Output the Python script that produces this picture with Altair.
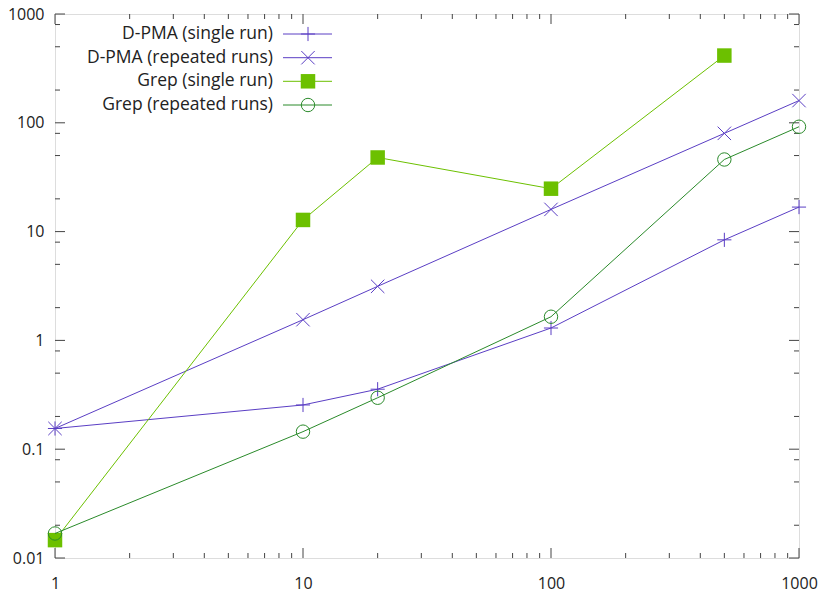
import altair as alt
import pandas as pd

# ---- data ----
SERIES = ["D-PMA (single run)", "D-PMA (repeated runs)", "Grep (single run)", "Grep (repeated runs)"]
X_VALUES = [1, 10, 20, 100, 500, 1000]
DPMA_SINGLE = [0.155, 0.255, 0.356, 1.30, 8.4, 16.8]
DPMA_REPEATED = [0.155, 1.55, 3.14, 16.0, 80.0, 160.0]
GREP_SINGLE = [0.0146, 12.8, 48.0, 24.8, 415.0]
GREP_REPEATED = [0.0168, 0.145, 0.297, 1.65, 46.0, 92.0]

X_MAJOR = [1, 10, 100, 1000]
X_MINOR = [2, 3, 4, 5, 6, 7, 8, 9, 20, 30, 40, 50, 60, 70, 80, 90, 200, 300, 400, 500, 600, 700, 800, 900]
Y_MAJOR = [0.01, 0.1, 1, 10, 100, 1000]
Y_MINOR = [0.02, 0.05, 0.08, 0.2, 0.5, 0.8, 2, 5, 8, 20, 50, 80, 200, 500, 800]

COLORS = ["#5a3ec4", "#5a3ec4", "#6cc000", "#2a8a2a"]
W, H = 744, 544
FONT = "Open Sans"

values = [DPMA_SINGLE, DPMA_REPEATED, GREP_SINGLE, GREP_REPEATED]
rows = []
for name, ys in zip(SERIES, values):
    for x, y in zip(X_VALUES, ys):
        rows.append({"series": name, "x": x, "y": y})
df = pd.DataFrame(rows)

xs = alt.Scale(type="log", domain=[1, 1000], nice=False)
ys_ = alt.Scale(type="log", domain=[0.01, 1000], nice=False)

PLUS = "M-1,0L1,0M0,-1L0,1"
CROSS = "M-1,-1L1,1M-1,1L1,-1"
SHAPES = [PLUS, CROSS, "square", "circle"]
SIZES = [200, 180, 210, 180]
FILLED = [False, False, True, False]

layers = []

# axes (labels only)
base_axes = alt.Chart(pd.DataFrame({"x": [1], "y": [1]})).mark_point(opacity=0).encode(
    x=alt.X("x:Q", scale=xs, title=None,
            axis=alt.Axis(values=X_MAJOR, format="d", grid=False, ticks=False, domain=False,
                          labelFontSize=16, labelFont=FONT, labelColor="#222", labelPadding=17,
                          labelFlush=False)),
    y=alt.Y("y:Q", scale=ys_, title=None,
            axis=alt.Axis(values=Y_MAJOR, format="~g", grid=False, ticks=False, domain=False,
                          labelFontSize=16, labelFont=FONT, labelColor="#222", labelPadding=11,
                          labelFlush=False)),
)
layers.append(base_axes)

# inward ticks on all four sides
def xticks(vals, ln):
    d = pd.DataFrame({"x": vals})
    b = alt.Chart(d).mark_rule(color="#444", strokeWidth=1)
    return [
        b.encode(x=alt.X("x:Q", scale=xs), y=alt.value(H), y2=alt.value(H - ln)),
        b.encode(x=alt.X("x:Q", scale=xs), y=alt.value(0), y2=alt.value(ln)),
    ]

def yticks(vals, ln):
    d = pd.DataFrame({"y": vals})
    b = alt.Chart(d).mark_rule(color="#444", strokeWidth=1)
    return [
        b.encode(y=alt.Y("y:Q", scale=ys_), x=alt.value(0), x2=alt.value(ln)),
        b.encode(y=alt.Y("y:Q", scale=ys_), x=alt.value(W - ln), x2=alt.value(W)),
    ]

layers += xticks(X_MAJOR, 10) + xticks(X_MINOR, 5) + yticks(Y_MAJOR, 10) + yticks(Y_MINOR, 5)

# series
for i, name in enumerate(SERIES):
    sub = df[df.series == name]
    line = alt.Chart(sub).mark_line(color=COLORS[i], strokeWidth=1).encode(
        x=alt.X("x:Q", scale=xs), y=alt.Y("y:Q", scale=ys_))
    pt = alt.Chart(sub).mark_point(
        shape=SHAPES[i], size=SIZES[i], filled=FILLED[i], color=COLORS[i],
        strokeWidth=1, opacity=1).encode(
        x=alt.X("x:Q", scale=xs), y=alt.Y("y:Q", scale=ys_))
    layers += [line, pt]

# legend (gnuplot style: text right-aligned, then sample)
ROW_Y = [20, 43.7, 67.3, 91]
for i, name in enumerate(SERIES):
    one = alt.Chart(pd.DataFrame({"s": [name]}))
    layers.append(one.mark_text(align="right", baseline="middle", fontSize=17.5, font=FONT,
                                color="#222").encode(
        text="s:N", x=alt.value(218), y=alt.value(ROW_Y[i])))
    layers.append(one.mark_rule(color=COLORS[i], strokeWidth=1).encode(
        x=alt.value(228), x2=alt.value(277), y=alt.value(ROW_Y[i])))
    layers.append(one.mark_point(shape=SHAPES[i], size=SIZES[i], filled=FILLED[i],
                                 color=COLORS[i], strokeWidth=1, opacity=1).encode(
        x=alt.value(253), y=alt.value(ROW_Y[i])))

chart = alt.layer(*layers).properties(
    width=W, height=H,
    padding={"left": 47, "top": 6, "right": 21, "bottom": 35},
    autosize=alt.AutoSizeParams(type="none"),
).configure_view(stroke="black", strokeWidth=1).configure(background="white")

chart.save("out.html", embed_options={"renderer": "svg", "actions": False})
